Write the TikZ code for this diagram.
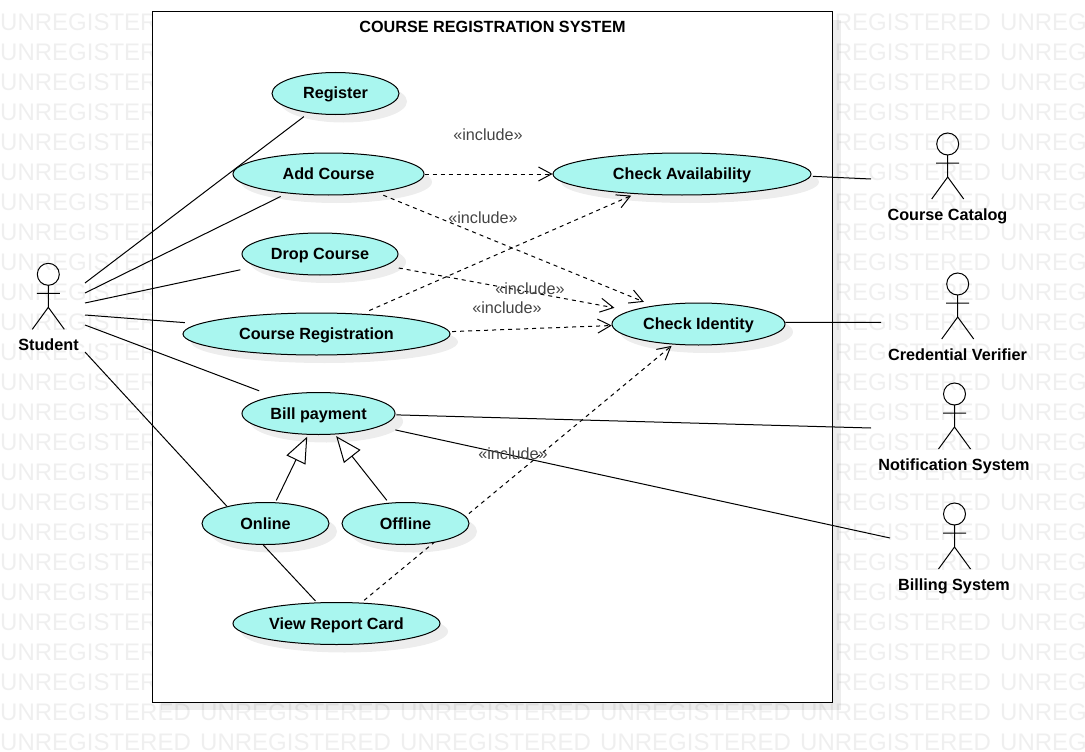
\documentclass[tikz,border=0pt]{standalone}
\usepackage{fontspec}
\setmainfont{Liberation Sans}
\usetikzlibrary{shapes.geometric,arrows.meta,shadows}
\definecolor{ucfill}{HTML}{A9F6EF}
\definecolor{wmgray}{HTML}{EFEFEF}
\definecolor{incgray}{HTML}{444444}
\pgfdeclarelayer{bg}
\pgfdeclarelayer{edges}
\pgfsetlayers{bg,edges,main}
\tikzset{softshadow/.style={drop shadow={shadow xshift=8pt,shadow yshift=-8pt,fill=black,opacity=0.07}}}
\tikzset{uc/.style={ellipse,draw,fill=ucfill,softshadow,line width=1pt,inner sep=0pt,minimum height=42pt,text height=12pt,text depth=1pt,font=\fontsize{16.2}{19}\selectfont\bfseries}}
\tikzset{who/.style={inner sep=0pt,text height=12pt,text depth=1pt,font=\fontsize{16.2}{19}\selectfont\bfseries}}
\tikzset{inc/.style={inner sep=0pt,text=incgray,font=\fontsize{16.2}{19}\selectfont}}
\tikzset{wmark/.style={inner sep=0pt,anchor=west,text=wmgray,font=\fontsize{24}{28}\selectfont}}
\tikzset{sysbox/.style={rectangle,draw,fill=white,softshadow,line width=1pt,minimum width=680pt,minimum height=690pt}}
\tikzset{solid link/.style={line width=1pt}}
\tikzset{dep/.style={line width=1pt,dashed,dash pattern=on 4pt off 4pt,-{Straight Barb[length=13pt,width=14pt]}}}
\tikzset{gen/.style={line width=1pt,-{Triangle[open,length=26pt,width=21pt]}}}
\tikzset{actor/.pic={
  \draw[line width=1pt] (0,0) circle [radius=11pt];
  \draw[line width=1pt] (0,11) -- (0,33) (-11.5,19) -- (11.5,19) (0,33) -- (-16,55) (0,33) -- (16,55);
}}

\begin{document}
\begin{tikzpicture}[x=1pt,y=-1pt]
\useasboundingbox (0,0) rectangle (1085,752);

\begin{pgfonlayer}{bg}
\begin{scope}
\clip (0,0) rectangle (1085,752);
\foreach \r in {0,...,24}
  \foreach \c in {0,...,5}
    \node[wmark](w\r-\c) at (\c*200,22+\r*30) {UNREGISTERED};
\end{scope}
\node[sysbox](system) at (492.5,357) {};
\end{pgfonlayer}

\node[who](title) at (492.5,27) {COURSE REGISTRATION SYSTEM};

\node[uc,minimum width=127pt](register) at (335.5,93.5) {Register};
\node[uc,minimum width=191pt](addcourse) at (328.5,174) {Add Course};
\node[uc,minimum width=156pt](dropcourse) at (320,254) {Drop Course};
\node[uc,minimum width=267pt](coursereg) at (316.5,334) {Course Registration};
\node[uc,minimum width=153pt](bill) at (318.5,413.5) {Bill payment};
\node[uc,minimum width=127pt](online) at (265.5,523.5) {Online};
\node[uc,minimum width=127pt](offline) at (405.5,523.5) {Offline};
\node[uc,minimum width=207pt](report) at (336.5,623.5) {View Report Card};
\node[uc,minimum width=258pt](avail) at (682,174) {Check Availability};
\node[uc,minimum width=173pt](identity) at (698.5,324) {Check Identity};

% actors
\pic at (48.3,274.3) {actor};
\pic at (947.7,144) {actor};
\pic at (957.7,284) {actor};
\pic at (954.5,394) {actor};
\pic at (954.5,514) {actor};
\node[who](student) at (48.5,345) {Student};
\node[who](catalog) at (947.5,215) {Course Catalog};
\node[who](verifier) at (957.5,355) {Credential Verifier};
\node[who](notify) at (954,465) {Notification System};
\node[who](billing) at (954,585) {Billing System};

\coordinate (s1) at (85,283);
\coordinate (s2) at (85,293);
\coordinate (s3) at (85,303);
\coordinate (s4) at (85,315);
\coordinate (s5) at (85,325);
\coordinate (s6) at (85,352);
\coordinate (catalogend) at (871,179);
\coordinate (verifierend) at (881,322.3);
\coordinate (notifyend) at (871,428);
\coordinate (billingend) at (890,538);

\begin{pgfonlayer}{edges}
\draw[solid link,shorten >=6pt] (s1) -- (register.216);
\draw[solid link,shorten >=7pt] (s2) -- (addcourse.205);
\draw[solid link,shorten >=16pt] (s3) -- (dropcourse.191.4);
\draw[solid link,shorten >=14pt] (s4) -- (coursereg.175.4);
\draw[solid link,shorten >=15pt] (s5) -- (bill.159.3);
\draw[solid link] (s6) -- (online.156.3);
\draw[solid link,shorten >=2pt] (online.264) -- (report.133.3);
\draw[solid link,shorten <=2pt] (avail.-1.4) -- (catalogend);
\draw[solid link] (identity.1.1) -- (verifierend);
\draw[solid link,shorten <=1pt] (bill.-1.8) -- (notifyend);
\draw[solid link,shorten <=16pt] (bill.-12) -- (billingend);

\draw[gen,shorten <=2pt,shorten >=2pt] (online.65) -- (bill.244.4);
\draw[gen,shorten <=3pt,shorten >=2pt] (offline.129.4) -- (bill.-52.2);

\draw[dep] (addcourse.east) -- (avail.west);
\draw[dep,shorten <=7pt,shorten >=10pt] (addcourse.-21.6) -- (identity.158);
\draw[dep,shorten <=13pt,shorten >=16pt] (dropcourse.-10) -- (identity.169.6);
\draw[dep,shorten <=8pt,shorten >=4pt] (coursereg.24.5) -- (avail.203.2);
\draw[dep,shorten <=2.5pt] (coursereg.1.7) -- (identity.181.3);
\draw[dep,shorten <=3.6pt,shorten >=2pt] (report.40.7) -- (identity.219);
\end{pgfonlayer}

\node[inc](inc1) at (488,135) {«include»};
\node[inc](inc2) at (483,218) {«include»};
\node[inc](inc3) at (530,289) {«include»};
\node[inc](inc4) at (507,308) {«include»};
\node[inc](inc5) at (513,454) {«include»};

\end{tikzpicture}
\end{document}
